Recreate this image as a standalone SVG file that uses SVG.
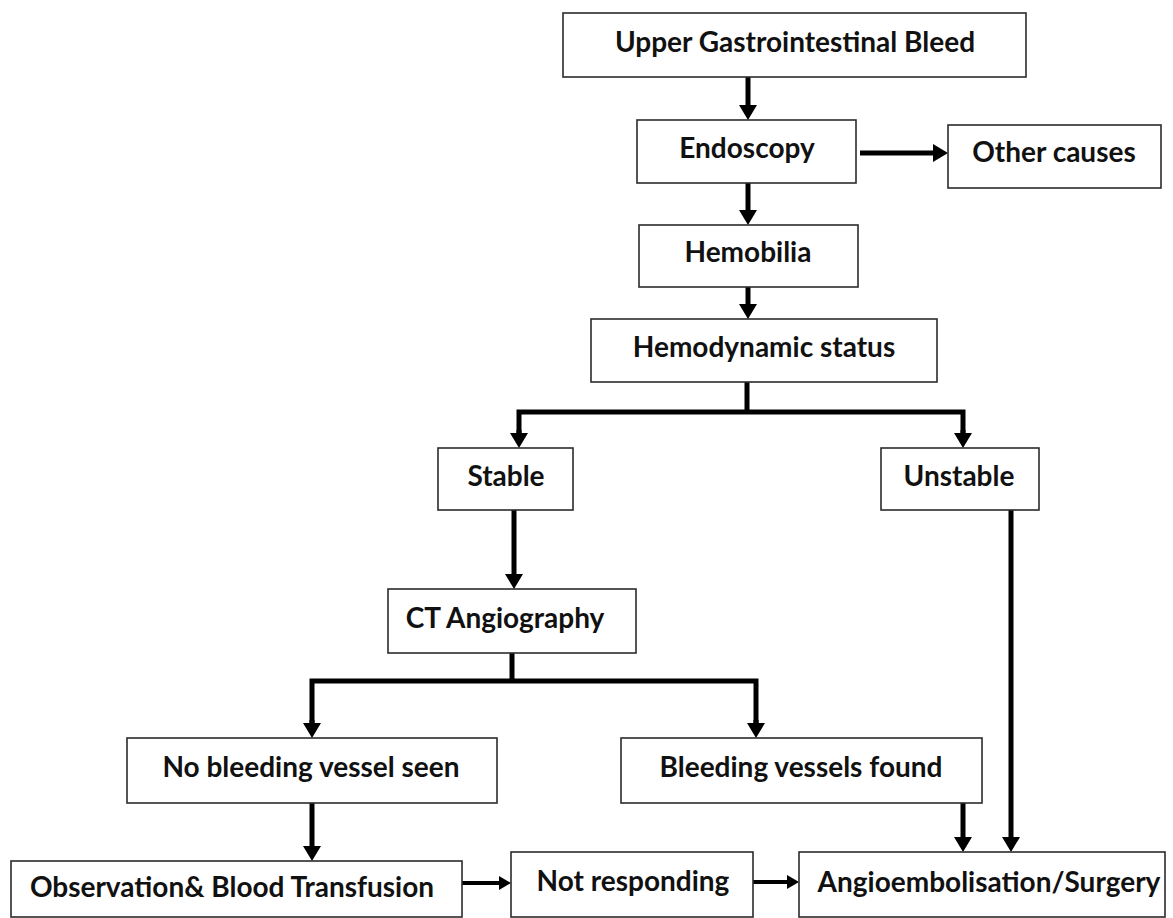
<svg xmlns="http://www.w3.org/2000/svg" width="1173" height="918" viewBox="0 0 1173 918">
<style>
.box{fill:#fff;stroke:#2b2b2b;stroke-width:1.6}
.t{font-family:Lato,"Liberation Sans",sans-serif;font-weight:700;font-size:28px;fill:#111;text-anchor:middle}
.c{fill:none;stroke:#000;stroke-width:5}
.cs{fill:none;stroke:#000;stroke-width:4}
</style>
<defs>
<marker id="ah" markerUnits="userSpaceOnUse" markerWidth="15" markerHeight="18" viewBox="0 0 15 18" refX="0" refY="9" orient="auto"><path d="M0,0 L15,9 L0,18 z" fill="#000"/></marker>
<marker id="as" markerUnits="userSpaceOnUse" markerWidth="12" markerHeight="14" viewBox="0 0 12 14" refX="0" refY="7" orient="auto"><path d="M0,0 L12,7 L0,14 z" fill="#000"/></marker>
</defs>
<rect width="1173" height="918" fill="#fff"/>
<g id="connectors">
<path class="c" d="M748,77 V105" marker-end="url(#ah)"/>
<path class="c" d="M860,153 H933" marker-end="url(#ah)"/>
<path class="c" d="M748,183 V210" marker-end="url(#ah)"/>
<path class="c" d="M748,287 V304" marker-end="url(#ah)"/>
<path class="c" d="M747,382 V412"/>
<path class="c" d="M519,433 V412 H963 V433"/>
<path class="c" d="M519,430 V433" marker-end="url(#ah)"/>
<path class="c" d="M963,430 V433" marker-end="url(#ah)"/>
<path class="c" d="M514,510 V574" marker-end="url(#ah)"/>
<path class="c" d="M512,653 V681"/>
<path class="c" d="M312,723 V681 H756 V723"/>
<path class="c" d="M312,720 V723" marker-end="url(#ah)"/>
<path class="c" d="M756,720 V723" marker-end="url(#ah)"/>
<path class="c" d="M312,803 V846" marker-end="url(#ah)"/>
<path class="c" d="M963,803 V837" marker-end="url(#ah)"/>
<path class="c" d="M1011,510 V837" marker-end="url(#ah)"/>
<path class="cs" d="M462,883 H499" marker-end="url(#as)"/>
<path class="cs" d="M753,882 H787" marker-end="url(#as)"/>
</g>
<g id="n-ugb"><rect class="box" x="563" y="13" width="463" height="64"/><text class="t" x="795" y="52">Upper Gastrointestinal Bleed</text></g>
<g id="n-endoscopy"><rect class="box" x="637" y="120" width="219" height="63"/><text class="t" x="747" y="158">Endoscopy</text></g>
<g id="n-other"><rect class="box" x="948" y="125" width="213" height="63"/><text class="t" x="1054" y="162">Other causes</text></g>
<g id="n-hemobilia"><rect class="box" x="639" y="225" width="219" height="62"/><text class="t" x="748" y="262">Hemobilia</text></g>
<g id="n-hemodynamic"><rect class="box" x="591" y="319" width="346" height="63"/><text class="t" x="764" y="357">Hemodynamic status</text></g>
<g id="n-stable"><rect class="box" x="438" y="448" width="135" height="62"/><text class="t" x="506" y="486">Stable</text></g>
<g id="n-unstable"><rect class="box" x="881" y="448" width="158" height="62"/><text class="t" x="959" y="486">Unstable</text></g>
<g id="n-ct"><rect class="box" x="388" y="589" width="248" height="64"/><text class="t" x="505" y="628">CT Angiography</text></g>
<g id="n-nobleed"><rect class="box" x="127" y="738" width="370" height="65"/><text class="t" x="311" y="777">No bleeding vessel seen</text></g>
<g id="n-bleedfound"><rect class="box" x="621" y="738" width="361" height="65"/><text class="t" x="801" y="777">Bleeding vessels found</text></g>
<g id="n-obs"><rect class="box" x="11" y="861" width="451" height="56"/><text class="t" x="232" y="897">Observation&amp; Blood Transfusion</text></g>
<g id="n-notresp"><rect class="box" x="511" y="852" width="242" height="65"/><text class="t" x="633" y="891">Not responding</text></g>
<g id="n-angio"><rect class="box" x="799" y="852" width="366" height="65"/><text class="t" x="989" y="892">Angioembolisation/Surgery</text></g>
</svg>
